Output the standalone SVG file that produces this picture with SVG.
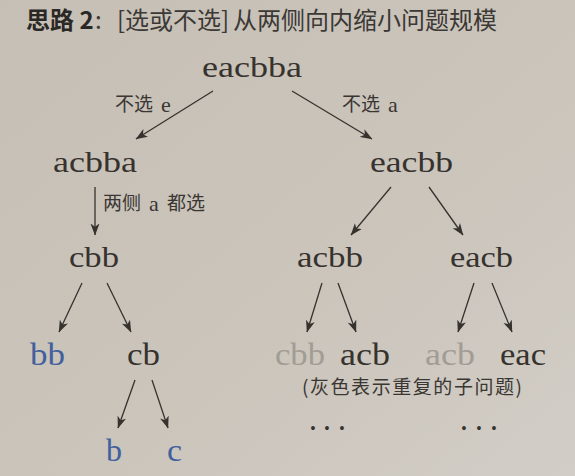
<svg xmlns="http://www.w3.org/2000/svg" width="575" height="476" viewBox="0 0 575 476">
<defs>
  <linearGradient id="bg" x1="0" y1="0" x2="1" y2="1">
    <stop offset="0" stop-color="#c6bfb5"/>
    <stop offset="0.6" stop-color="#cbc5bc"/>
    <stop offset="1" stop-color="#d2cdc6"/>
  </linearGradient>
  <marker id="ah" viewBox="0 0 12 10" refX="11.5" refY="5" markerWidth="12" markerHeight="10" markerUnits="userSpaceOnUse" orient="auto">
    <path d="M0,0.5 L12,5 L0,9.5 L3.2,5 Z" fill="#36322e"/>
  </marker>
  <style>
    .n { font-family: "Liberation Serif", "DejaVu Serif", serif; font-size: 30px; fill: #36322e; }
    .big { font-size: 31px; }
    .g { fill: #a29c95; }
    .b { fill: #41609c; }
    .lbl { font-family: "Noto Sans CJK SC", "Noto Sans", sans-serif; font-size: 19px; fill: #3a3633; }
    .lat { font-family: "Liberation Serif", "DejaVu Serif", serif; font-size: 22px; }
    .t { font-family: "Noto Sans CJK SC", "Noto Sans", sans-serif; font-size: 24px; fill: #3b3835; }
    .e line { stroke: #36322e; stroke-width: 1.3; fill: none; marker-end: url(#ah); }
    .dot { font-family: "Liberation Serif", "DejaVu Serif", serif; font-size: 28px; font-weight: bold; fill: #36322e; }
  </style>
</defs>
<rect width="575" height="476" fill="url(#bg)"/>

<g id="title">
  <text class="t" y="29"><tspan x="26" font-weight="bold" fill="#2a2825">思路 2</tspan><tspan x="95">:</tspan><tspan x="117">[选或不选]</tspan><tspan x="233">从两侧向内缩小问题规模</tspan></text>
</g>

<g id="connectors" class="e">
  <line x1="213" y1="91" x2="136" y2="139"/>
  <line x1="292" y1="91" x2="372" y2="139"/>
  <line x1="95" y1="187" x2="95" y2="235"/>
  <line x1="391" y1="187" x2="351" y2="235"/>
  <line x1="429" y1="187" x2="463" y2="235"/>
  <line x1="82" y1="283" x2="59" y2="332"/>
  <line x1="107" y1="283" x2="131" y2="332"/>
  <line x1="322" y1="283" x2="307" y2="332"/>
  <line x1="338" y1="283" x2="356" y2="332"/>
  <line x1="474" y1="283" x2="458" y2="332"/>
  <line x1="492" y1="283" x2="512" y2="332"/>
  <line x1="135" y1="380" x2="118" y2="428"/>
  <line x1="152" y1="380" x2="168" y2="428"/>
</g>

<g id="edge-labels">
  <text class="lbl" y="111"><tspan x="115">不选</tspan><tspan class="lat" x="161" y="112">e</tspan></text>
  <text class="lbl" y="111"><tspan x="342">不选</tspan><tspan class="lat" x="388" y="112">a</tspan></text>
  <text class="lbl" y="210"><tspan x="103">两侧</tspan><tspan class="lat" x="149" y="211">a</tspan><tspan x="167" y="210">都选</tspan></text>
</g>

<g id="n-eacbba"><text class="n" x="202" y="77" textLength="100" lengthAdjust="spacingAndGlyphs">eacbba</text></g>
<g id="n-acbba"><text class="n" x="53" y="172" textLength="84" lengthAdjust="spacingAndGlyphs">acbba</text></g>
<g id="n-eacbb"><text class="n" x="370" y="172" textLength="83" lengthAdjust="spacingAndGlyphs">eacbb</text></g>
<g id="n-cbb"><text class="n" x="69" y="267" textLength="50" lengthAdjust="spacingAndGlyphs">cbb</text></g>
<g id="n-acbb"><text class="n" x="297" y="267" textLength="66" lengthAdjust="spacingAndGlyphs">acbb</text></g>
<g id="n-eacb"><text class="n" x="450" y="267" textLength="63" lengthAdjust="spacingAndGlyphs">eacb</text></g>
<g id="n-bb"><text class="n big b" x="30" y="365" textLength="35" lengthAdjust="spacingAndGlyphs">bb</text></g>
<g id="n-cb"><text class="n big" x="127" y="365" textLength="33" lengthAdjust="spacingAndGlyphs">cb</text></g>
<g id="n-cbb-dup"><text class="n big g" x="275" y="365" textLength="50" lengthAdjust="spacingAndGlyphs">cbb</text></g>
<g id="n-acb"><text class="n big" x="340" y="365" textLength="50" lengthAdjust="spacingAndGlyphs">acb</text></g>
<g id="n-acb-dup"><text class="n big g" x="425" y="365" textLength="50" lengthAdjust="spacingAndGlyphs">acb</text></g>
<g id="n-eac"><text class="n big" x="500" y="365" textLength="46" lengthAdjust="spacingAndGlyphs">eac</text></g>
<g id="n-b"><text class="n big b" x="106" y="461" textLength="16" lengthAdjust="spacingAndGlyphs">b</text></g>
<g id="n-c"><text class="n big b" x="167" y="461" textLength="15" lengthAdjust="spacingAndGlyphs">c</text></g>

<g id="note">
  <text class="lbl" x="302" y="394" font-size="20" fill="#a9a39c" textLength="220" lengthAdjust="spacing">(灰色表示重复的子问题)</text>
</g>

<g id="dots" transform="scale(0.5)">
  <text class="dot" x="626 654 684" y="866" text-anchor="middle">•••</text>
  <text class="dot" x="928 958 988" y="866" text-anchor="middle">•••</text>
</g>
</svg>
